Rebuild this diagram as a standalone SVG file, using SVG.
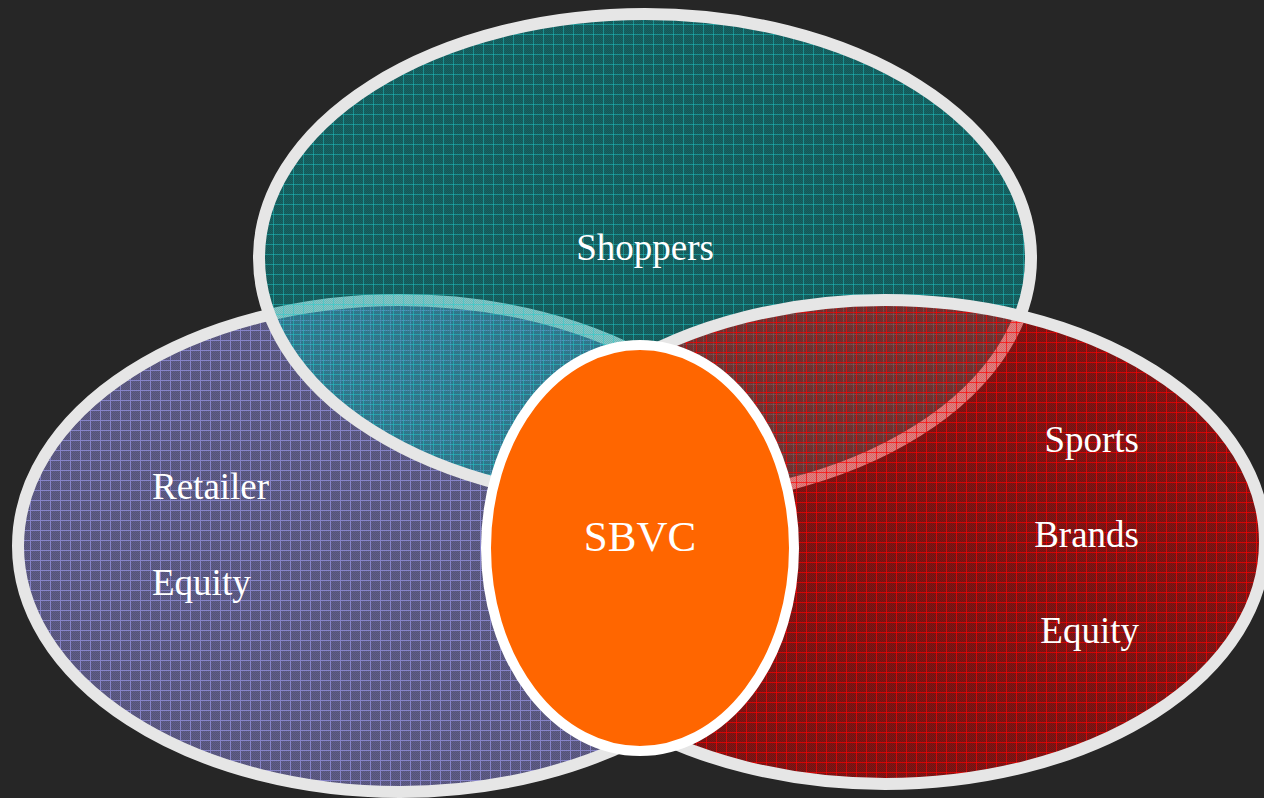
<svg xmlns="http://www.w3.org/2000/svg" width="1264" height="798" viewBox="0 0 1264 798">
  <defs>
    <!-- fine grain laid under every grid tile -->
    <pattern id="grain" patternUnits="userSpaceOnUse" width="2" height="2">
      <rect x="0" y="0" width="1" height="1" fill="#000" fill-opacity="0.12"/>
      <rect x="1" y="1" width="1" height="1" fill="#000" fill-opacity="0.12"/>
    </pattern>
    <!-- purple grid (bottom layer, opaque) -->
    <pattern id="gridPurple" patternUnits="userSpaceOnUse" width="10" height="10">
      <rect width="10" height="10" fill="#605d88"/>
      <rect width="10" height="10" fill="url(#grain)"/>
      <rect x="0" y="0" width="10" height="1" fill="#8683c8"/>
      <rect x="0" y="0" width="1" height="10" fill="#8683c8"/>
    </pattern>
    <!-- teal grid, translucent -->
    <pattern id="gridTeal" patternUnits="userSpaceOnUse" width="10" height="10" x="3" y="4">
      <rect width="10" height="10" fill="#05adad" fill-opacity="0.45"/>
      <rect width="10" height="10" fill="url(#grain)"/>
      <rect x="0" y="0" width="10" height="1" fill="#1fd0d0" fill-opacity="0.45"/>
      <rect x="0" y="0" width="1" height="10" fill="#1fd0d0" fill-opacity="0.45"/>
    </pattern>
    <!-- red grid, translucent -->
    <pattern id="gridRed" patternUnits="userSpaceOnUse" width="10" height="10" x="6" y="2">
      <rect width="10" height="10" fill="#f00000" fill-opacity="0.46"/>
      <rect width="10" height="10" fill="url(#grain)"/>
      <rect x="0" y="0" width="10" height="1" fill="#ff0000" fill-opacity="0.65"/>
      <rect x="0" y="0" width="1" height="10" fill="#ff0000" fill-opacity="0.65"/>
    </pattern>
  </defs>
  <style>
    .ring { stroke: #e6e6e6; stroke-width: 12; }
    .label { font-family: "Liberation Serif", "Times New Roman", serif; font-size: 37px; fill: #ffffff; }
    .core { fill: #ff6600; stroke: #ffffff; stroke-width: 10; }
    .coreLabel { font-family: "Liberation Serif", "Times New Roman", serif; font-size: 43px; fill: #ffffff; }
  </style>

  <rect width="1264" height="798" fill="#262626"/>

  <g id="retailer">
    <ellipse class="ring" cx="400" cy="546" rx="382" ry="246" fill="url(#gridPurple)"/>
    <text class="label" x="152" y="499">Retailer</text>
    <text class="label" x="152" y="595">Equity</text>
  </g>

  <g id="shoppers">
    <ellipse class="ring" cx="645" cy="258" rx="386" ry="244" fill="url(#gridTeal)"/>
    <text class="label" x="645" y="260" text-anchor="middle">Shoppers</text>
  </g>

  <g id="sports-brands">
    <ellipse class="ring" cx="885" cy="542" rx="380" ry="242" fill="url(#gridRed)"/>
    <text class="label" x="1139" y="452" text-anchor="end">Sports</text>
    <text class="label" x="1139" y="547" text-anchor="end">Brands</text>
    <text class="label" x="1139" y="643" text-anchor="end">Equity</text>
  </g>

  <g id="sbvc">
    <ellipse class="core" cx="640" cy="548" rx="154" ry="203"/>
    <text class="coreLabel" x="640" y="551" text-anchor="middle">SBVC</text>
  </g>
</svg>
